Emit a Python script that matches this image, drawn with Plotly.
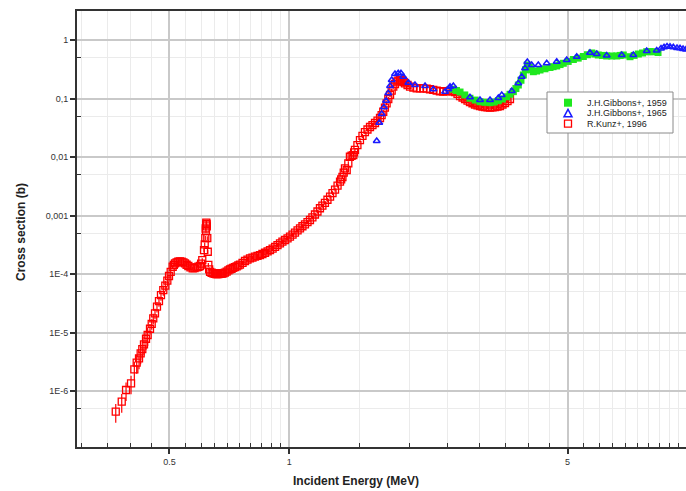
import plotly.graph_objects as go

# ---------------- data ----------------
kunz_E = [0.3664, 0.3793, 0.3889, 0.4003, 0.408, 0.4136, 0.4192, 0.4232, 0.4272, 0.4314,
          0.4365, 0.4407, 0.4467, 0.4511, 0.4552, 0.4598, 0.4651, 0.4705, 0.476, 0.4824,
          0.488, 0.4938, 0.4986, 0.5035, 0.5093, 0.5127, 0.5162, 0.521, 0.526, 0.531,
          0.5365, 0.542, 0.547, 0.552, 0.5576, 0.5645, 0.5718, 0.578, 0.5852, 0.591,
          0.5965, 0.6005, 0.6045, 0.6105, 0.613, 0.6151, 0.6165, 0.6175, 0.6187, 0.619,
          0.6195, 0.6205, 0.6222, 0.624, 0.626, 0.629, 0.6322, 0.638, 0.6443, 0.6495,
          0.655, 0.659, 0.6633, 0.668, 0.6726, 0.6775, 0.6826, 0.689, 0.696, 0.703,
          0.7096, 0.716, 0.723, 0.730, 0.7375, 0.7445, 0.7517, 0.763, 0.774, 0.785,
          0.7966, 0.808, 0.820, 0.832, 0.844, 0.856, 0.869, 0.882, 0.8944, 0.908,
          0.921, 0.934, 0.9476, 0.961, 0.9754, 0.990, 1.004, 1.019, 1.0335, 1.049,
          1.064, 1.079, 1.095, 1.111, 1.127, 1.143, 1.160, 1.177, 1.194, 1.211,
          1.229, 1.247, 1.266, 1.284, 1.303, 1.322, 1.341, 1.35, 1.360, 1.37,
          1.380, 1.394, 1.407, 1.420, 1.434, 1.448, 1.455, 1.462, 1.483, 1.505,
          1.527, 1.549, 1.572, 1.595, 1.618, 1.642, 1.666, 1.690, 1.706, 1.722,
          1.739, 1.756, 1.773, 1.791, 1.808, 1.825, 1.843, 1.861, 1.879, 1.897,
          1.911, 1.925, 1.939, 1.953, 1.982, 2.011, 2.05, 2.090, 2.13, 2.171,
          2.214, 2.257, 2.30, 2.346, 2.39, 2.437, 2.485, 2.534, 2.57, 2.608,
          2.646, 2.685, 2.724, 2.764, 2.804, 2.844, 2.886, 2.928, 2.971, 3.014,
          3.058, 3.102, 3.148, 3.194, 3.24, 3.287, 3.335, 3.384, 3.433, 3.483,
          3.534, 3.585]
kunz_xs = [4.43e-7, 6.56e-7, 1.04e-6, 1.35e-6, 2.35e-6, 3.05e-6, 3.62e-6, 4.41e-6, 5.22e-6, 6.29e-6,
           7.83e-6, 9.06e-6, 1.16e-5, 1.40e-5, 1.75e-5, 2.13e-5, 2.76e-5, 3.45e-5, 4.37e-5, 5.32e-5,
           6.31e-5, 7.68e-5, 9.24e-5, 1.09e-4, 1.33e-4, 1.43e-4, 1.52e-4, 1.58e-4, 1.62e-4, 1.64e-4,
           1.62e-4, 1.58e-4, 1.52e-4, 1.44e-4, 1.37e-4, 1.30e-4, 1.25e-4, 1.26e-4, 1.30e-4, 1.33e-4,
           1.37e-4, 1.50e-4, 1.73e-4, 2.57e-4, 3.2e-4, 4.12e-4, 6.0e-4, 5.5e-4, 7.53e-4, 7.0e-4,
           7.2e-4, 6.5e-4, 4.1e-4, 2.4e-4, 1.43e-4, 1.20e-4, 1.09e-4, 1.05e-4, 1.03e-4, 1.01e-4,
           1.0e-4, 1.0e-4, 1.0e-4, 1.01e-4, 1.02e-4, 1.02e-4, 1.03e-4, 1.06e-4, 1.10e-4, 1.15e-4,
           1.20e-4, 1.23e-4, 1.27e-4, 1.31e-4, 1.35e-4, 1.40e-4, 1.45e-4, 1.55e-4, 1.67e-4, 1.76e-4,
           1.85e-4, 1.91e-4, 1.98e-4, 2.04e-4, 2.11e-4, 2.20e-4, 2.31e-4, 2.43e-4, 2.57e-4, 2.72e-4,
           2.90e-4, 3.11e-4, 3.35e-4, 3.57e-4, 3.81e-4, 4.07e-4, 4.35e-4, 4.70e-4, 5.08e-4, 5.55e-4,
           6.04e-4, 6.55e-4, 7.08e-4, 7.70e-4, 8.38e-4, 9.30e-4, 1.04e-3, 1.17e-3, 1.33e-3, 1.48e-3,
           1.64e-3, 1.86e-3, 2.10e-3, 2.42e-3, 2.78e-3, 3.25e-3, 3.78e-3, 4.15e-3, 4.55e-3, 5.4e-3,
           6.41e-3, 6.0e-3, 7.8e-3, 1.01e-2, 1.05e-2, 1.08e-2, 1.2e-2, 1.32e-2, 1.6e-2, 1.95e-2,
           2.3e-2, 2.67e-2, 2.95e-2, 3.26e-2, 3.5e-2, 3.81e-2, 4.2e-2, 4.64e-2, 5.2e-2, 5.94e-2,
           7.0e-2, 8.28e-2, 9.8e-2, 0.115, 0.136, 0.159, 0.177, 0.194, 0.202, 0.207,
           0.205, 0.199, 0.19, 0.182, 0.17, 0.159, 0.153, 0.149, 0.149, 0.149,
           0.147, 0.144, 0.140, 0.136, 0.133, 0.131, 0.133, 0.136, 0.133, 0.129,
           0.12, 0.110, 0.104, 0.098, 0.092, 0.0871, 0.083, 0.0789, 0.0765, 0.0744,
           0.073, 0.0716, 0.0709, 0.0702, 0.0709, 0.0716, 0.073, 0.0744, 0.079, 0.0838,
           0.090, 0.098]
kunz_relerr = [0.35] * 12 + [0.2] * 12 + [0.08] * (len(kunz_E) - 24)

gib65_E = [1.658, 1.683, 1.707, 1.729, 1.750, 1.773, 1.791, 1.808, 1.843, 1.878,
           1.908, 1.934, 1.991, 2.069, 2.193, 2.301, 2.462, 2.509, 2.534, 2.583,
           2.844, 3.014, 3.194, 3.351, 3.418, 3.622, 3.762, 3.836, 3.911, 3.963,
           4.064, 4.223, 4.434, 4.698, 4.977, 5.274, 5.694, 5.922, 6.273, 6.842,
           7.316, 7.907, 8.377, 8.589, 8.740, 8.893, 9.049, 9.223, 9.422, 9.587,
           9.755, 9.925]
gib65_xs = [0.0188, 0.0386, 0.0543, 0.0707, 0.0917, 0.123, 0.164, 0.207, 0.262, 0.270,
            0.270, 0.236, 0.186, 0.170, 0.164, 0.144, 0.131, 0.144, 0.159, 0.164,
            0.105, 0.0942, 0.0942, 0.102, 0.115, 0.134, 0.182, 0.236, 0.328, 0.421,
            0.374, 0.374, 0.400, 0.426, 0.455, 0.518, 0.607, 0.576, 0.543, 0.554,
            0.554, 0.649, 0.662, 0.716, 0.750, 0.774, 0.768, 0.750, 0.730, 0.722,
            0.702, 0.688]

gib59_E = [2.583, 2.63, 2.685, 2.76, 2.844, 2.93, 3.014, 3.10, 3.194, 3.27,
           3.351, 3.43, 3.517, 3.585, 3.655, 3.71, 3.762, 3.82, 3.873, 3.92,
           3.963, 4.009, 4.05, 4.103, 4.18, 4.265, 4.39, 4.519, 4.60, 4.698,
           4.79, 4.880, 5.02, 5.172, 5.32, 5.480, 5.61, 5.753, 5.86, 5.975,
           6.12, 6.273, 6.46, 6.647, 6.78, 6.906, 7.178, 7.35, 7.532, 7.72,
           7.907, 8.06, 8.215, 8.441]
gib59_xs = [0.144, 0.137, 0.129, 0.115, 0.101, 0.094, 0.0881, 0.086, 0.0848, 0.087,
            0.0917, 0.098, 0.107, 0.118, 0.131, 0.148, 0.170, 0.205, 0.252, 0.31,
            0.374, 0.345, 0.31, 0.287, 0.295, 0.307, 0.322, 0.339, 0.35, 0.360,
            0.38, 0.400, 0.43, 0.464, 0.49, 0.522, 0.56, 0.600, 0.575, 0.554,
            0.545, 0.533, 0.533, 0.533, 0.545, 0.554, 0.518, 0.545, 0.576, 0.60,
            0.631, 0.631, 0.631, 0.611]

legend_labels = ["J.H.Gibbons+, 1959", "J.H.Gibbons+, 1965", "R.Kunz+, 1996"]

x_major = [0.5, 1, 5, 10]
x_major_text = ["0.5", "1", "5", "10"]
x_minor = [0.3, 0.35, 0.4, 0.45, 0.55, 0.6, 0.65, 0.7, 0.75, 0.8, 0.85, 0.9, 0.95,
           1.5, 2, 2.5, 3, 3.5, 4, 4.5, 5.5, 6, 6.5, 7, 7.5, 8, 8.5, 9, 9.5]
y_major = [1e-6, 1e-5, 1e-4, 1e-3, 1e-2, 1e-1, 1]
y_major_text = ["1E-6", "1E-5", "1E-4", "0,001", "0,01", "0,1", "1"]
y_minor = [5e-7, 5e-6, 5e-5, 5e-4, 5e-3, 5e-2, 0.5]

# ---------------- figure ----------------
FONT = "Arial, Liberation Sans, Helvetica, sans-serif"
RED, GREEN, BLUE = "#ff0000", "#1fe81f", "#1a1aff"
W, H = 686, 491
ML, MR, MT, MB = 77, 0, 11, 44
PW, PH = W - ML - MR, H - MT - MB

fig = go.Figure()

fig.add_trace(go.Scatter(
    x=kunz_E, y=kunz_xs, mode="markers", name=legend_labels[2], showlegend=False,
    marker=dict(symbol="square-open", size=7, color=RED, line=dict(width=1.3, color=RED)),
    error_y=dict(type="data", array=[s * f for s, f in zip(kunz_xs, kunz_relerr)],
                 color=RED, thickness=1.2, width=0),
))
fig.add_trace(go.Scatter(
    x=gib59_E, y=gib59_xs, mode="markers", name=legend_labels[0], showlegend=False,
    marker=dict(symbol="square", size=7, color=GREEN),
))
fig.add_trace(go.Scatter(
    x=gib65_E, y=gib65_xs, mode="markers", name=legend_labels[1], showlegend=False,
    marker=dict(symbol="triangle-up-open", size=6, color=BLUE, line=dict(width=1.5, color=BLUE)),
))

axis_common = dict(
    type="log", showline=True, linecolor="#333333", linewidth=2,
    ticks="outside", ticklen=5, tickwidth=1.5, tickcolor="#333333",
    showgrid=True, gridcolor="#c9c9c9", gridwidth=1.5, zeroline=False,
    tickfont=dict(family=FONT, size=9, color="#333333"),
)

# ---- compact legend box (pixel layout converted to paper coords) ----
def px_x(p):
    return (p - ML) / PW

def px_y(p):
    return (H - MB - p) / PH

shapes = [dict(type="rect", xref="paper", yref="paper",
               x0=px_x(547), x1=px_x(673), y0=px_y(133), y1=px_y(92),
               fillcolor="white", line=dict(color="#8a8a8a", width=1), layer="above")]
rows = [102.7, 113.3, 123.6]
sx = 568
# green filled square
shapes.append(dict(type="rect", xref="paper", yref="paper",
                   x0=px_x(sx - 4), x1=px_x(sx + 4), y0=px_y(rows[0] + 4), y1=px_y(rows[0] - 4),
                   fillcolor=GREEN, line=dict(width=0), layer="above"))
# blue open triangle
tri = "M {a},{b} L {c},{b} L {d},{e} Z".format(
    a=px_x(sx - 4), c=px_x(sx + 4), b=px_y(rows[1] + 3.5), d=px_x(sx), e=px_y(rows[1] - 4))
shapes.append(dict(type="path", xref="paper", yref="paper", path=tri,
                   fillcolor="rgba(0,0,0,0)", line=dict(color=BLUE, width=1.5), layer="above"))
# red open square
shapes.append(dict(type="rect", xref="paper", yref="paper",
                   x0=px_x(sx - 3.5), x1=px_x(sx + 3.5), y0=px_y(rows[2] + 3.5), y1=px_y(rows[2] - 3.5),
                   fillcolor="rgba(0,0,0,0)", line=dict(color=RED, width=1.3), layer="above"))

annotations = [
    dict(text="<b>Incident Energy (MeV)</b>", xref="paper", yref="paper",
         x=px_x(356), y=px_y(481), xanchor="center", yanchor="middle", showarrow=False,
         font=dict(family=FONT, size=12, color="#222222")),
    dict(text="<b>Cross section (b)</b>", xref="paper", yref="paper",
         x=px_x(21), y=px_y(232), xanchor="center", yanchor="middle", showarrow=False,
         textangle=-90, font=dict(family=FONT, size=12, color="#222222")),
]
for lab, ry in zip(legend_labels, rows):
    annotations.append(dict(text=lab, xref="paper", yref="paper", x=px_x(585), y=px_y(ry),
                            xanchor="left", yanchor="middle", showarrow=False,
                            font=dict(family=FONT, size=9, color="#222222")))

fig.update_layout(
    width=W, height=H, autosize=False,
    margin=dict(l=ML, r=MR, t=MT, b=MB),
    paper_bgcolor="white", plot_bgcolor="white",
    font=dict(family=FONT, size=9, color="#222222"),
    xaxis=dict(axis_common, range=[-0.5334, 0.9967], tickmode="array",
               tickvals=x_major, ticktext=x_major_text, mirror=True,
               minor=dict(tickvals=x_minor, ticks="inside", ticklen=4, tickwidth=1.2,
                          tickcolor="#333333", showgrid=True, gridcolor="#ebebeb", gridwidth=1)),
    yaxis=dict(axis_common, range=[-6.957, 0.4957], tickmode="array",
               tickvals=y_major, ticktext=y_major_text,
               minor=dict(tickvals=y_minor, ticks="inside", ticklen=4, tickwidth=1.2,
                          tickcolor="#333333", showgrid=True, gridcolor="#ebebeb", gridwidth=1)),
    showlegend=False,
    shapes=shapes,
    annotations=annotations,
)

fig.write_html("out.html")
